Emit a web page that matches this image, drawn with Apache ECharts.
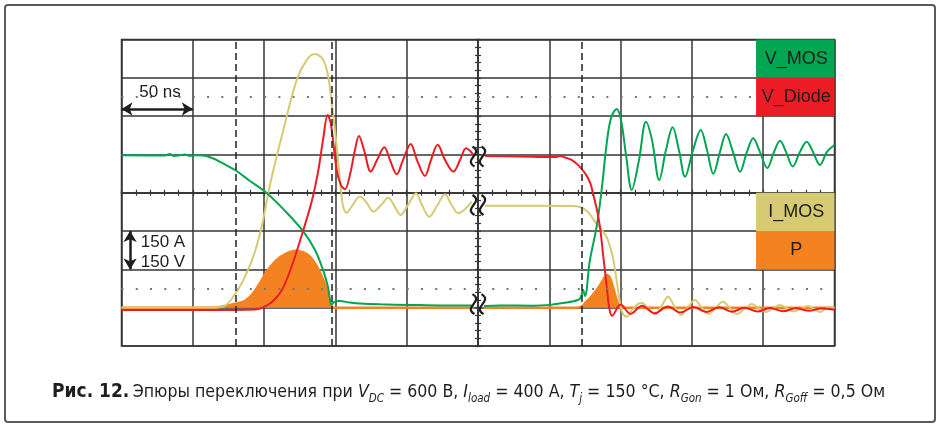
<!DOCTYPE html>
<html>
<head>
<meta charset="utf-8">
<script src="https://cdn.jsdelivr.net/npm/echarts@6/dist/echarts.min.js"></script>
<style>
html, body { margin: 0; padding: 0; background: #fff; }
#chart { width: 941px; height: 428px; }
</style>
</head>
<body>
<div id="chart"></div>
<script>
// time in ns (two time windows, split by the break at 250 ns), level in screen units: 150 A / 150 V per division
const vmosPoints = [
  [0,597],[30.5,596],[34,602],[36.8,594],[41,597],[44.5,600],[48,594],[52.2,597],[57.2,596],[63.5,586],
  [70.5,567],[79.6,539],[90.1,496],[101.8,449],[114.7,379],[127.3,300],[135.7,226],[141.3,148],[144.8,81],
  [147.3,11],[149,22],[153.1,26],[160.2,20],[167.3,16],[181.3,13],[202.3,11],[223.4,9],[247,9],
  [250,'-'],
  [254.2,7],[265.4,9],[288.6,8],[300.5,11],[309.6,18],[320.1,30],[322.2,42],[323.6,70],[325,46],[328.5,187],
  [333.2,317],[336.7,461],[340.3,645],[343.3,743],[347.3,778],[350.3,735],[353.8,598],[357.8,461],[362.9,578],
  [367.8,728],[372,657],[377.1,500],[381.8,617],[386.5,706],[390.9,617],[395.2,513],[400.8,617],[406.2,696],
  [410.6,617],[415,524],[419.7,610],[423.9,680],[428.8,610],[433.7,532],[438.6,610],[443,663],[447.7,610],
  [452.9,547],[457.6,610],[461.8,654],[466,610],[470.7,553],[475.8,610],[480.5,650],[484.9,610],[489.8,559],
  [494.7,610],[500,637]
];
const vdiodePoints = [
  [0,-9],[55,-9],[93.6,-7],[98.5,-1],[105.5,22],[112.5,69],[119.6,166],[127.3,300],[133.6,421],[137.8,531],
  [141.3,656],[144.6,754],[146.9,717],[150.9,539],[153.9,480],[156.7,464],[160.2,520],[163.7,617],[166.5,672],
  [170.1,617],[174.8,533],[179.2,578],[184.3,628],[188.3,578],[193,522],[197.4,578],[202.8,641],[207.2,578],
  [212.8,516],[217,578],[221.7,638],[226.9,578],[232.7,533],[237.4,578],[241.6,624],[244.4,614],[246.7,598],
  [250,'-'],
  [255,594],[279.5,592],[304,590],[307.5,594],[311,588],[315.9,578],[320.1,559],[325,527],[328.5,492],
  [330.6,449],[333.4,383],[335.5,317],[337.6,214],[340.3,82],[341.9,4],[344,-32],[350,12],[357,-24],[365,8],
  [374,-22],[383,5],[392,-19],[401,3],[410,-17],[419,2],[428,-16],[437,0],[446,-15],[455,-1],[464,-14],
  [473,-2],[482,-12],[491,-3],[500,-8]
];
const imosPoints = [
  [0,1],[65.6,1],[71.4,4],[78.4,43],[85.4,108],[92.4,200],[98.3,317],[102.9,448],[106.5,539],[113.5,696],
  [122.9,892],[129.9,970],[135.7,993],[141.5,970],[145,904],[147.4,800],[149.7,696],[152,567],[153.9,461],
  [155.5,394],[157.9,372],[161.6,398],[167.2,435],[171.5,414],[176.6,376],[182,402],[187.1,430],[191.8,394],
  [195.8,363],[200.9,402],[206.5,448],[210.7,402],[215.8,356],[221.2,398],[226.9,444],[231.1,406],[236.2,370],
  [240.9,386],[245.6,415],
  [250,'-'],
  [254.9,399],[293.5,399],[314.5,398],[321.5,394],[327.1,375],[332,337],[337.7,298],[340.5,273],[342.6,239],
  [344.7,195],[346.1,148],[347.5,97],[348.5,58],[349.6,18],[351.7,-25],[354.5,-35],[358,-9],[362.2,15],
  [365,18],[369.5,-5],[374.1,-25],[378.6,5],[383.2,43],[387.8,5],[392.3,-29],[397,0],[402.1,30],[407,0],
  [411.9,-25],[416.8,0],[421.7,23],[426.6,0],[431.6,-25],[437,-5],[442.1,14],[447,-3],[451.9,-17],[456.8,-3],
  [461.7,11],[466.6,-2],[471.6,-15],[476.5,-4],[481.4,7],[485.6,-5],[489.8,-17],[493.3,-6],[496.8,4],[500,-1]
];
const powerPoints = [
  [0,0],[65.6,0],[69.1,3],[76.1,11],[85.2,23],[90.1,42],[94.8,76],[98.3,108],[101.8,141],[108.8,187],
  [115.8,213],[121.7,223],[129.9,210],[135.7,174],[141.5,108],[145,50],[147.4,4],[149,0],[247,0],
  [250,'-'],
  [254,0],[318,0],[322.7,4],[325.7,22],[328.5,37],[334.1,76],[337.7,108],[340.3,128],[342.6,116],[344.9,76],
  [347.3,30],[349.1,3],[351,0],[500,0]
];
const legendNames = ['V_MOS', 'V_Diode', 'I_MOS', 'P'];
const legendTops = [1050, 900, 450, 300];
const markerTimes = [79.8, 147.4, 322.9];   // dashed cursors
const dottedLevels = [825, 75];
const breakLevels = [592, 402, 14];

const colors = { vmos: '#00A651', vdiode: '#ED1C24', imos: '#D6CA72', p: '#F58220' };
const legendColors = [colors.vmos, colors.vdiode, colors.imos, colors.p];
const gridColor = '#363636';
const font = '"Liberation Sans", Arial, sans-serif';

const chart = echarts.init(document.getElementById('chart'));

function centerAxis(pos, range, interval) {
  return {
    type: 'value', min: range[0], max: range[1], interval: interval,
    position: pos,
    axisLine: { show: true, onZero: true, onZeroAxisIndex: 2, lineStyle: { color: gridColor, width: 1.5 } },
    axisTick: { show: true, length: 3, lineStyle: { color: gridColor, width: 1.2 } },
    minorTick: { show: true, splitNumber: 5, length: 3, lineStyle: { color: gridColor, width: 1.2 } },
    axisLabel: { show: false },
    splitLine: { show: false }
  };
}

const xMain = centerAxis('bottom', [0, 500], 50);
xMain.splitLine = { show: true, lineStyle: { color: gridColor, width: 1.5 } };
const xTop = centerAxis('top', [0, 500], 50);
const yMain = centerAxis('left', [-150, 1050], 150);
yMain.splitLine = { show: true, lineStyle: { color: gridColor, width: 1.5 } };
const yRight = centerAxis('right', [-150, 1050], 150);

const markLines = [];
markerTimes.forEach(t => markLines.push({ xAxis: t, lineStyle: { color: '#222', width: 1.5, type: [7, 4] } }));
dottedLevels.forEach(v => markLines.push({ yAxis: v, lineStyle: { color: '#777', width: 2, type: [2, 12.26] } }));
const arrowStyle = { color: '#1e1e1e', width: 2.5, type: 'solid' };
markLines.push([
  { coord: [0, 778], symbol: 'arrow', symbolSize: [10, 11], lineStyle: arrowStyle },
  { coord: [50, 778], symbol: 'arrow', symbolSize: [10, 11] }
]);
markLines.push([
  { coord: [6, 300], symbol: 'arrow', symbolSize: [10, 11], lineStyle: arrowStyle },
  { coord: [6, 150], symbol: 'arrow', symbolSize: [10, 11] }
]);

function trace(name, data, color, extra) {
  return Object.assign({
    name, type: 'line', data, smooth: 0.35, symbol: 'none', connectNulls: false,
    lineStyle: { color, width: 2 }, itemStyle: { color }, silent: true
  }, extra || {});
}

chart.setOption({
  animation: false,
  grid: { left: 121.5, right: 106.5, top: 39.5, bottom: 82, show: true, borderColor: gridColor, borderWidth: 1.5,
          containLabel: false, outerBoundsMode: 'none' },
  xAxis: [xMain, xTop, { type: 'value', min: -5, max: 5, show: false }],
  yAxis: [yMain, yRight, { type: 'value', min: -4, max: 4, show: false }],
  series: [
    trace('P', powerPoints, colors.p, {
      lineStyle: { color: colors.p, width: 2.5 },
      areaStyle: { color: colors.p, opacity: 1 },
      markLine: { silent: true, symbol: 'none', label: { show: false }, data: markLines }
    }),
    trace('I_MOS', imosPoints, colors.imos),
    trace('V_MOS', vmosPoints, colors.vmos),
    trace('V_Diode', vdiodePoints, colors.vdiode)
  ]
});

const px = p => chart.convertToPixel({ xAxisIndex: 0, yAxisIndex: 0 }, p);
const graphics = [];

// outer frame
graphics.push({ type: 'rect', shape: { x: 5, y: 5, width: 930, height: 417, r: 3 },
  style: { fill: 'none', stroke: '#5a5a5a', lineWidth: 2 }, z: 100 });

// legend boxes
legendNames.forEach((name, i) => {
  const a = px([445, legendTops[i]]);
  const b = px([500, legendTops[i] - 150]);
  graphics.push({ type: 'rect', shape: { x: a[0], y: a[1], width: b[0] - a[0], height: b[1] - a[1] },
    style: { fill: legendColors[i] }, z: 100 });
  graphics.push({ type: 'text', x: (a[0] + b[0]) / 2 + 1, y: (a[1] + b[1]) / 2,
    style: { text: name, fill: '#1e1e1e', font: '18px ' + font, align: 'center', verticalAlign: 'middle' }, z: 101 });
});

// break symbols
breakLevels.forEach(v => {
  const c = px([250, v]);
  [-4.5, 4.5].forEach(dx => {
    graphics.push({ type: 'bezierCurve', x: c[0] + dx, y: c[1],
      shape: { x1: -1, y1: -10, x2: 1, y2: 10, cpx1: 11, cpy1: -3, cpx2: -11, cpy2: 3 },
      style: { fill: 'none', stroke: '#1e1e1e', lineWidth: 2.2 }, z: 102 });
  });
});

// scale annotations
const t50 = px([27, 845]);
graphics.push({ type: 'text', x: t50[0], y: t50[1],
  style: { text: '50 ns', fill: '#1e1e1e', font: '17px ' + font, align: 'center', verticalAlign: 'middle' }, z: 101 });
const tA = px([13.5, 257]);
graphics.push({ type: 'text', x: tA[0], y: tA[1],
  style: { text: '150 A', fill: '#1e1e1e', font: '17px ' + font, align: 'left', verticalAlign: 'middle' }, z: 101 });
const tV = px([13.5, 179]);
graphics.push({ type: 'text', x: tV[0], y: tV[1],
  style: { text: '150 V', fill: '#1e1e1e', font: '17px ' + font, align: 'left', verticalAlign: 'middle' }, z: 101 });

// caption
const capFont = '"Liberation Sans Narrow", "DejaVu Sans Condensed", "Roboto", sans-serif';
graphics.push({ type: 'text', x: 52, y: 392, z: 101,
  style: {
    text: '{b|Рис. 12.} {n|Эпюры переключения при }{i|V}{s|DC}{n| = 600 В, }{i|I}{s|load}{n| = 400 А, }{i|T}{s|j}{n| = 150 °C, }{i|R}{s|Gon}{n| = 1 Ом, }{i|R}{s|Goff}{n| = 0,5 Ом}',
    verticalAlign: 'middle', align: 'left', fill: '#1e1e1e',
    rich: {
      b: { fontFamily: capFont, fontSize: 19, fontWeight: 'bold', lineHeight: 26, fill: '#1e1e1e' },
      n: { fontFamily: capFont, fontSize: 17.6, lineHeight: 26, fill: '#1e1e1e' },
      i: { fontFamily: capFont, fontSize: 17.6, fontStyle: 'italic', lineHeight: 26, fill: '#1e1e1e' },
      s: { fontFamily: capFont, fontSize: 11.5, fontStyle: 'italic', lineHeight: 26, verticalAlign: 'bottom', fill: '#1e1e1e' }
    }
  }
});

chart.setOption({ graphic: graphics });
</script>
</body>
</html>
